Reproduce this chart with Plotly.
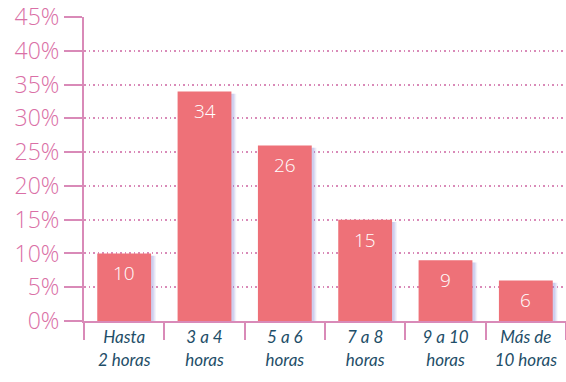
import plotly.graph_objects as go

categories = ["Hasta<br>2 horas", "3 a 4<br>horas", "5 a 6<br>horas", "7 a 8<br>horas", "9 a 10<br>horas", "Más de<br>10 horas"]
values = [10, 34, 26, 15, 9, 6]
y_ticks = [0, 5, 10, 15, 20, 25, 30, 35, 40, 45]
y_tick_labels = [f"{v}%" for v in y_ticks]

pink = "#D98AB8"
bar_color = "#EE7178"

fig = go.Figure()
# soft shadow layers
for dx, alpha in [(0.06, 0.10), (0.045, 0.14), (0.03, 0.18)]:
    fig.add_trace(go.Bar(
        x=categories, y=values, marker_color=f"rgba(130,130,210,{alpha})",
        marker_line_width=0, offset=-0.335 + dx, width=0.67,
        base=[-0.35] * len(values), hoverinfo="skip", showlegend=False,
    ))
fig.add_trace(go.Bar(
    x=categories, y=values, marker_color=bar_color, marker_line_width=0,
    offset=-0.335, width=0.67, showlegend=False,
))
for c, v in zip(categories, values):
    fig.add_annotation(
        x=c, y=v, text=str(v), showarrow=False, yanchor="top", yshift=-5,
        font=dict(color="white", size=19, family="Open Sans", weight=300),
    )

fig.update_layout(
    width=566, height=382,
    margin=dict(l=84, r=0, t=17, b=61),
    plot_bgcolor="white", paper_bgcolor="white",
    barmode="overlay",
    font=dict(family="Open Sans"),
)
fig.update_yaxes(
    range=[0, 45.02], tickvals=y_ticks, ticktext=y_tick_labels,
    showline=True, linecolor=pink, linewidth=2,
    ticks="outside", ticklen=18, tickwidth=2, tickcolor=pink,
    tickfont=dict(color="#DA6FA6", size=23, family="Open Sans", weight=300),
    showgrid=True, gridcolor=pink, gridwidth=1.5, griddash="1.5px,3px",
    zeroline=False, fixedrange=True, automargin=False, ticklabeloverflow="allow",
)
fig.update_xaxes(
    showline=True, linecolor=pink, linewidth=2,
    ticks="outside", tickson="boundaries", ticklen=17, tickwidth=2, tickcolor=pink,
    tickfont=dict(color="#1E4E68", size=17, family="Lato", style="italic"),
    showgrid=False, range=[-0.5, 5.5], automargin=False,
)
fig.write_html(
    "out.html",
    config={"displayModeBar": False},
    post_script="document.body.style.margin='0';document.body.style.overflow='hidden';",
)
